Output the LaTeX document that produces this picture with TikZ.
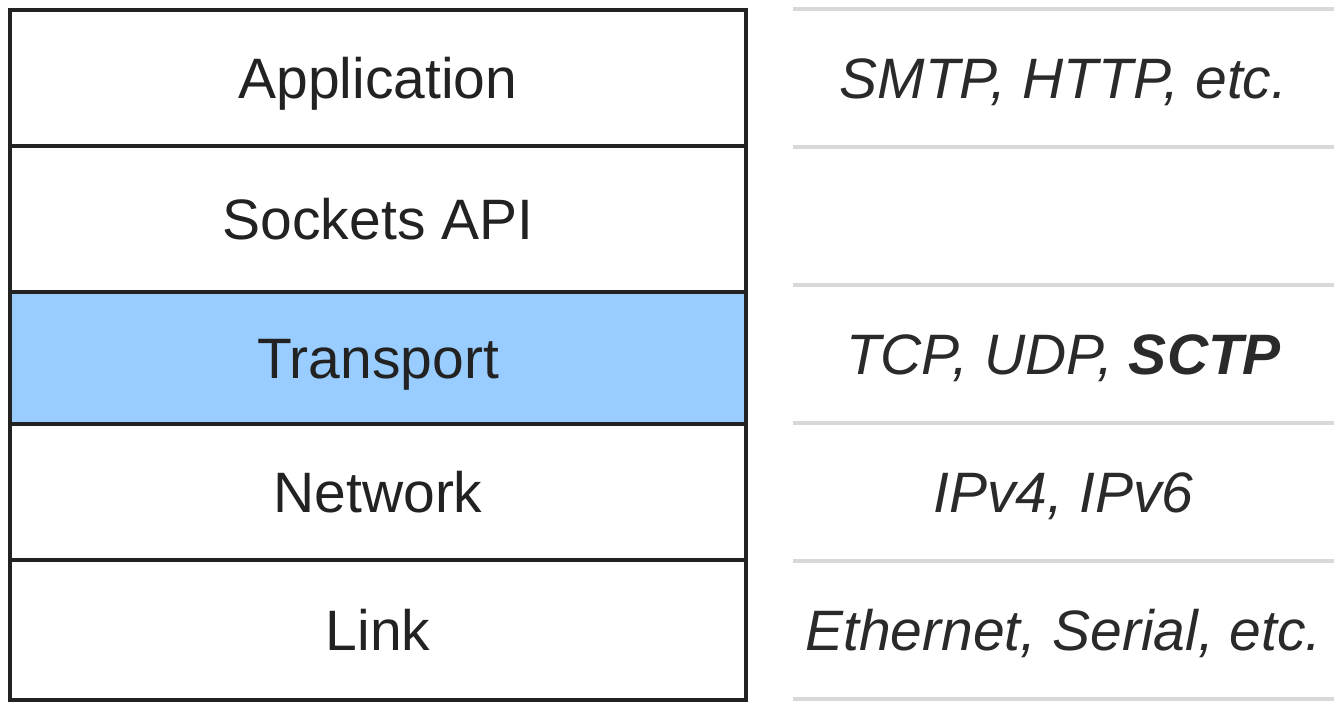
\documentclass[tikz,border=0pt]{standalone}
\usepackage{fontspec}
\setmainfont{Liberation Sans}
\usetikzlibrary{positioning}
\definecolor{edgegray}{HTML}{222222}
\definecolor{rulegray}{HTML}{D8D8D8}
\definecolor{transblue}{HTML}{99CCFF}
\definecolor{txtgray}{HTML}{2A2A2A}
\tikzset{
layer/.style={
rectangle,
draw=edgegray,
line width=1.6pt,
fill=white,
minimum width=368pt,
outer sep=0pt,
inner sep=0pt,
text=edgegray
},
proto/.style={
rectangle,
minimum width=270.5pt,
minimum height=69pt,
outer sep=0pt,
inner sep=0pt,
text=txtgray,
font=\fontsize{28.5pt}{34pt}\selectfont\itshape
},
rule/.style={
draw=rulegray,
line width=2pt
}
}

\begin{document}
\begin{tikzpicture}[
	font=\fontsize{28.5pt}{34pt}\selectfont,
	text height=20.4pt,
	text depth=0pt
	]
	\useasboundingbox (0,0) rectangle (667pt,-351.5pt);
	
	% protocol stack
	\node[layer,minimum height=68pt,anchor=north west] (app) at (5pt,-5pt) {Application};
	\node[layer,minimum height=73pt,below=0pt of app] (sock) {Sockets API};
	\node[layer,minimum height=66pt,below=0pt of sock,fill=transblue] (trans) {Transport};
	\node[layer,minimum height=68pt,below=0pt of trans] (net) {Network};
	\node[layer,minimum height=70pt,below=0pt of net] (link) {Link};
	
	% examples for each layer
	\node[proto,anchor=north west] (smtp) at (396.5pt,-4.5pt) {SMTP, HTTP, etc.};
	\node[proto,below=69pt of smtp] (tcp) {TCP, UDP, \textbf{SCTP}};
	\node[proto,below=0pt of tcp] (ip) {IPv4, IPv6};
	\node[proto,below=0pt of ip] (eth) {Ethernet, Serial, etc.};
	
	\foreach \p in {smtp,tcp,ip,eth}
		\path[rule] (\p.north west) -- (\p.north east) (\p.south west) -- (\p.south east);
\end{tikzpicture}
\end{document}
